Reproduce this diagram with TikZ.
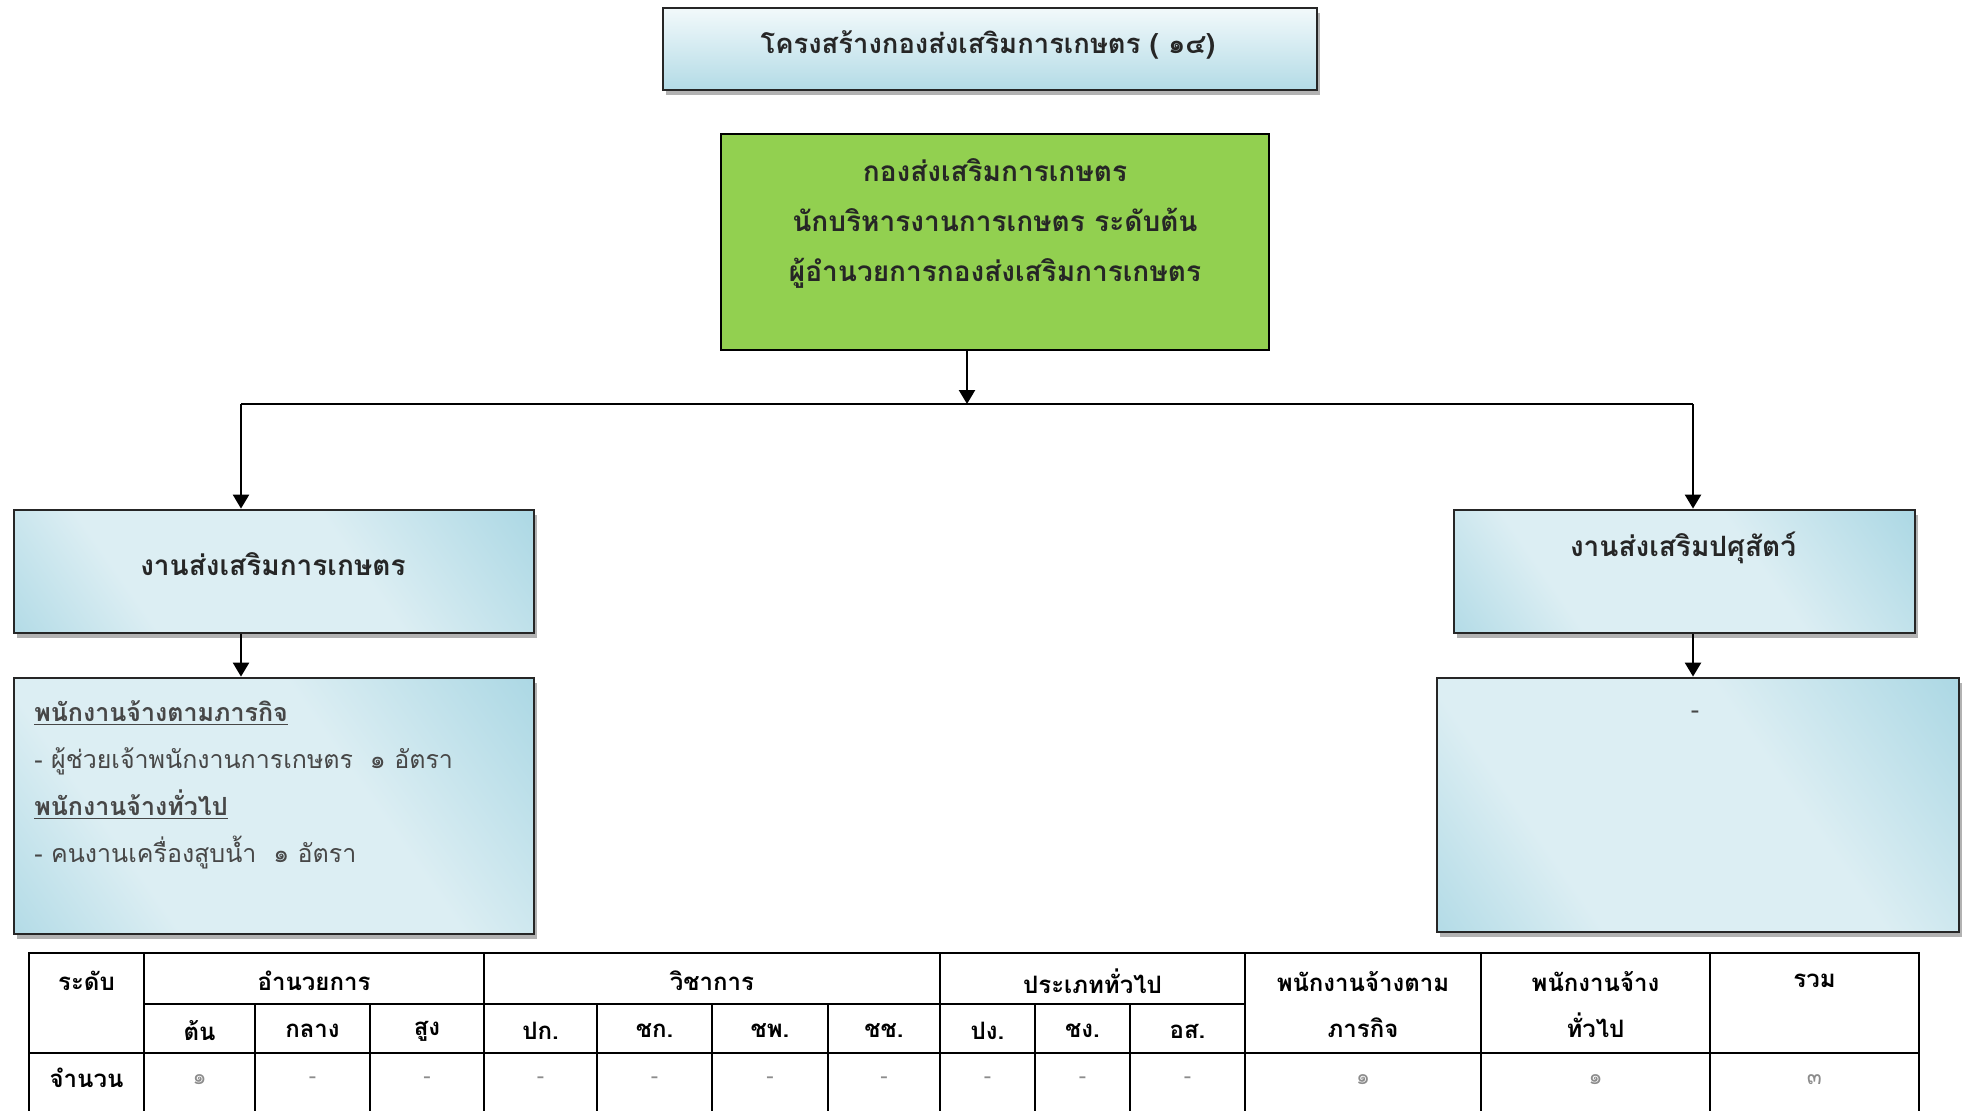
\documentclass[tikz,border=0pt]{standalone}
\usepackage{fontspec}
\newfontfamily\thai[Script=Thai]{Loma}
\usetikzlibrary{shadows,arrows.meta}
\definecolor{bdark}{HTML}{8ECADB}
\definecolor{blight}{HTML}{DCEEF3}
\definecolor{tlight}{HTML}{F2F9FB}
\definecolor{tdark}{HTML}{B3DBE6}
\definecolor{gfill}{HTML}{92D050}
\definecolor{txt}{HTML}{262626}
\definecolor{graytxt}{HTML}{8C8C8C}
\pgfdeclarehorizontalshading{calm}{100bp}{color(0bp)=(bdark); color(32bp)=(blight); color(60bp)=(blight); color(100bp)=(bdark)}
\tikzset{
  boxbase/.style={draw=black!85, line width=1.4pt, inner sep=0pt,
    drop shadow={shadow xshift=1.5pt, shadow yshift=-2.5pt, fill=black!50, opacity=0.6}},
  bluebox/.style={boxbase, shading=calm, shading angle=35},
  titlebox/.style={boxbase, top color=tlight, bottom color=tdark},
  greenbox/.style={draw=black, line width=1.2pt, fill=gfill, inner sep=0pt},
  head/.style={font=\thai\bfseries\fontsize{14}{25}\selectfont, text=txt, align=center, inner sep=0pt},
  body/.style={font=\thai\fontsize{12.5}{23.5}\selectfont, text=txt!85, align=left, inner sep=0pt},
  cell/.style={font=\thai\bfseries\fontsize{12}{23}\selectfont, text=black, inner sep=0pt, align=center},
  val/.style={font=\thai\fontsize{11}{13}\selectfont, text=graytxt, inner sep=0pt},
  conn/.style={draw=black, line width=1.2pt},
  arr/.style={conn, -{Triangle[length=7pt,width=8pt]}},
  grid/.style={draw=black, line width=1pt}
}
\begin{document}
\begin{tikzpicture}[x=0.5pt,y=-0.5pt]
\useasboundingbox[fill=white] (0,0) rectangle (1966,1110);

% title
\node[titlebox, minimum width=327pt, minimum height=41pt] (title) at (990,49) {};
\node[head, font=\thai\bfseries\fontsize{13.7}{25}\selectfont] (titletext) at (988,45) {โครงสร้างกองส่งเสริมการเกษตร ( ๑๔)};

% green
\node[greenbox, minimum width=274pt, minimum height=108pt] (g) at (995,242) {};
\node[head] (gtext) at (995,223) {กองส่งเสริมการเกษตร\\นักบริหารงานการเกษตร ระดับต้น\\ผู้อำนวยการกองส่งเสริมการเกษตร};

% second level
\node[bluebox, minimum width=260pt, minimum height=61.5pt] (l1) at (274,571.5) {};
\node[head] (l1text) at (273,564) {งานส่งเสริมการเกษตร};
\node[bluebox, minimum width=230.5pt, minimum height=61.5pt] (r1) at (1684.5,571.5) {};
\node[head] (r1text) at (1683,548) {งานส่งเสริมปศุสัตว์};

% third level
\node[bluebox, minimum width=260pt, minimum height=128pt] (l2) at (274,806) {};
\node[body, anchor=north west] (l2text) at (34,700) {{\bfseries\underline{พนักงานจ้างตามภารกิจ}}\\- ผู้ช่วยเจ้าพนักงานการเกษตร\ \ ๑ อัตรา\\{\bfseries\underline{พนักงานจ้างทั่วไป}}\\- คนงานเครื่องสูบน้ำ\ \ ๑ อัตรา};
\node[bluebox, minimum width=261pt, minimum height=127pt] (r2) at (1698,805) {};
\node[body] (r2text) at (1695,715) {-};

% connectors
\coordinate (jn) at (967,404);
\coordinate (bl) at (241,404);
\coordinate (br) at (1693,404);
\draw[arr] (g.south -| jn) -- (jn);
\draw[conn] (bl) -- (br);
\draw[arr] (bl) -- (bl |- l1.north);
\draw[arr] (br) -- (br |- r1.north);
\draw[arr] (bl |- l1.south) -- (bl |- l2.north);
\draw[arr] (br |- r1.south) -- (br |- r2.north);

% table grid
\draw[grid] (29,1112) -- (29,953) -- (1919,953) -- (1919,1112);
\foreach \x in {144,484,940,1245,1481,1710} \draw[grid] (\x,953) -- (\x,1112);
\foreach \x in {255,370,597,712,828,1035,1130} \draw[grid] (\x,1004) -- (\x,1112);
\draw[grid] (144,1004) -- (1245,1004);
\draw[grid] (29,1053) -- (1919,1053);

% table header
\node[cell] (h0) at (86.5,981) {ระดับ};
\node[cell] (h1) at (314,981) {อำนวยการ};
\node[cell] (h2) at (712,981) {วิชาการ};
\node[cell] (h3) at (1092.5,981) {ประเภททั่วไป};
\node[cell] (h4) at (1363,1005) {พนักงานจ้างตาม\\ภารกิจ};
\node[cell] (h5) at (1595.5,1005) {พนักงานจ้าง\\ทั่วไป};
\node[cell] (h6) at (1814.5,981) {รวม};
\node[cell] (s1) at (199.5,1031) {ต้น};
\node[cell] (s2) at (312.5,1031) {กลาง};
\node[cell] (s3) at (427,1031) {สูง};
\node[cell] (s4) at (540.5,1031) {ปก.};
\node[cell] (s5) at (654.5,1031) {ชก.};
\node[cell] (s6) at (770,1031) {ชพ.};
\node[cell] (s7) at (884,1031) {ชช.};
\node[cell] (s8) at (987.5,1031) {ปง.};
\node[cell] (s9) at (1082.5,1031) {ชง.};
\node[cell] (s10) at (1187.5,1031) {อส.};
% data row
\node[cell] (r0) at (86.5,1078) {จำนวน};
\node[val] (v1) at (199.5,1080) {๑};
\node[val] (v2) at (312.5,1080) {-};
\node[val] (v3) at (427,1080) {-};
\node[val] (v4) at (540.5,1080) {-};
\node[val] (v5) at (654.5,1080) {-};
\node[val] (v6) at (770,1080) {-};
\node[val] (v7) at (884,1080) {-};
\node[val] (v8) at (987.5,1080) {-};
\node[val] (v9) at (1082.5,1080) {-};
\node[val] (v10) at (1187.5,1080) {-};
\node[val] (v11) at (1363,1080) {๑};
\node[val] (v12) at (1595.5,1080) {๑};
\node[val] (v13) at (1814.5,1080) {๓};
\end{tikzpicture}
\end{document}
